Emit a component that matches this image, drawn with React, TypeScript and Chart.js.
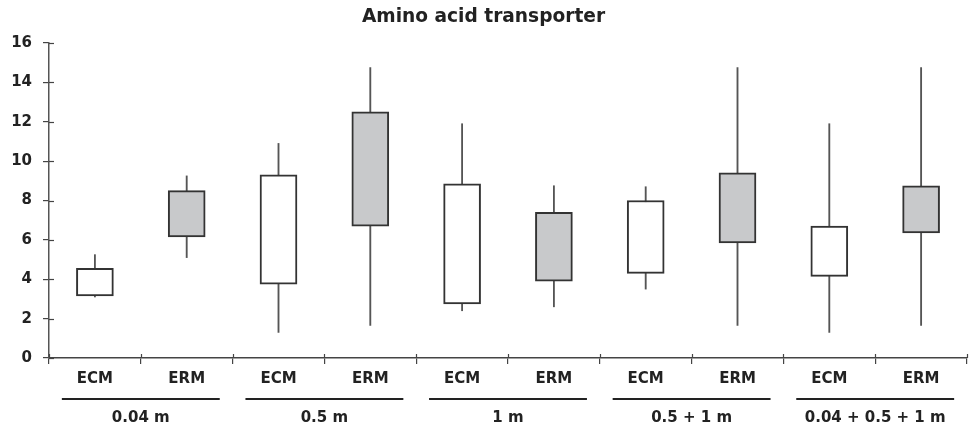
import React, { useEffect, useRef } from "react";
import { Chart, registerables } from "chart.js";

Chart.register(...registerables);

const categories = ["ECM", "ERM", "ECM", "ERM", "ECM", "ERM", "ECM", "ERM", "ECM", "ERM"];
const groupLabels = ["0.04 m", "0.5 m", "1 m", "0.5 + 1 m", "0.04 + 0.5 + 1 m"];
const boxLow = [3.15, 6.15, 3.75, 6.7, 2.75, 3.9, 4.3, 5.85, 4.15, 6.35];
const boxHigh = [4.55, 8.5, 9.3, 12.5, 8.85, 7.4, 8.0, 9.4, 6.7, 8.75];
const whiskerLow = [3.1, 5.1, 1.3, 1.65, 2.4, 2.6, 3.5, 1.65, 1.3, 1.65];
const whiskerHigh = [5.25, 9.25, 10.9, 14.75, 11.9, 8.75, 8.7, 14.75, 11.9, 14.75];
const yTicks = [0, 2, 4, 6, 8, 10, 12, 14, 16];

const FONT = "'DejaVu Sans', Verdana, sans-serif";

const decorPlugin = {
  id: "decor",
  afterDraw(chart: any) {
    const ctx = chart.ctx;
    const x2 = chart.scales.x2;
    const ys = chart.scales.y;
    const area = chart.chartArea;
    ctx.save();
    // inner parts of y ticks
    ctx.strokeStyle = "#444";
    ctx.lineWidth = 1.2;
    yTicks.forEach((v) => {
      const py = Math.round(ys.getPixelForValue(v)) + 0.5;
      ctx.beginPath();
      ctx.moveTo(area.left, py);
      ctx.lineTo(area.left + 5, py);
      ctx.stroke();
    });
    // inner parts of x ticks
    const n = categories.length;
    for (let i = 0; i <= n; i++) {
      const px = Math.round(area.left + (i * (area.right - area.left)) / n) + 0.5;
      ctx.beginPath();
      ctx.moveTo(px, area.bottom - 4);
      ctx.lineTo(px, area.bottom);
      ctx.stroke();
    }
    // group underline segments
    ctx.strokeStyle = "#222";
    ctx.lineWidth = 2;
    const band = (x2.right - x2.left) / groupLabels.length;
    groupLabels.forEach((_, i) => {
      const c = x2.getPixelForValue(i);
      const half = band * 0.43;
      const ly = x2.top + 1;
      ctx.beginPath();
      ctx.moveTo(c - half, ly);
      ctx.lineTo(c + half, ly);
      ctx.stroke();
    });
    ctx.restore();
  },
};

export default function App() {
  const ref = useRef<HTMLCanvasElement | null>(null);

  useEffect(() => {
    if (!ref.current) return;
    Chart.defaults.font.family = FONT;
    const chart = new Chart(ref.current, {
      type: "bar",
      data: {
        labels: categories,
        datasets: [
          {
            label: "box",
            data: boxLow.map((lo, i) => [lo, boxHigh[i]]),
            backgroundColor: categories.map((c) => (c === "ERM" ? "#c8c9cb" : "#ffffff")),
            borderColor: "#333333",
            borderWidth: 2,
            borderSkipped: false,
            barThickness: 37,
            grouped: false,
            order: 1,
          } as any,
          {
            label: "whisker",
            data: whiskerLow.map((lo, i) => [lo, whiskerHigh[i]]),
            backgroundColor: "#555555",
            borderWidth: 0,
            barThickness: 1.2,
            grouped: false,
            order: 2,
          } as any,
        ],
      },
      options: {
        animation: false,
        responsive: true,
        maintainAspectRatio: false,
        layout: { padding: { left: 0, right: 4, top: 0, bottom: 0 } },
        plugins: {
          legend: { display: false },
          tooltip: { enabled: false },
          title: {
            display: true,
            text: "Amino acid transporter",
            color: "#222",
            font: { family: FONT, size: 18.6, weight: "bold" },
            padding: { top: 6, bottom: 14.7 },
          },
        },
        scales: {
          x: {
            type: "category",
            position: "bottom",
            weight: 0,
            offset: true,
            grid: {
              display: true,
              offset: true,
              drawOnChartArea: false,
              drawTicks: true,
              tickLength: 6,
              color: "#444",
              lineWidth: 1.2,
            },
            border: { display: true, color: "#444", width: 1.5 },
            ticks: {
              color: "#222",
              padding: 6,
              maxRotation: 0,
              autoSkip: false,
              font: { family: FONT, size: 15, weight: "bold" },
            },
            afterFit: (s: any) => {
              s.height = 40;
            },
          },
          x2: {
            type: "category",
            labels: groupLabels,
            position: "bottom",
            weight: 1,
            offset: true,
            grid: { display: false, drawTicks: false },
            border: { display: false },
            ticks: {
              color: "#222",
              padding: 11,
              maxRotation: 0,
              autoSkip: false,
              font: { family: FONT, size: 15, weight: "bold" },
            },
            afterFit: (s: any) => {
              s.height = 37;
            },
          },
          y: {
            type: "linear",
            min: 0,
            max: 16,
            afterBuildTicks: (s: any) => {
              s.ticks = yTicks.map((v) => ({ value: v }));
            },
            grid: {
              display: true,
              drawOnChartArea: false,
              drawTicks: true,
              tickLength: 6,
              color: "#444",
              lineWidth: 1.2,
            },
            border: { display: true, color: "#555", width: 1.5 },
            ticks: {
              color: "#222",
              padding: 11,
              font: { family: FONT, size: 15, weight: "bold" },
            },
            afterFit: (s: any) => {
              s.width = 49;
            },
          },
        },
      },
      plugins: [decorPlugin],
    });
    return () => chart.destroy();
  }, []);

  return (
    <div style={{ position: "fixed", left: 0, top: 0, width: 971, height: 435, background: "#fff" }}>
      <canvas ref={ref} />
    </div>
  );
}
